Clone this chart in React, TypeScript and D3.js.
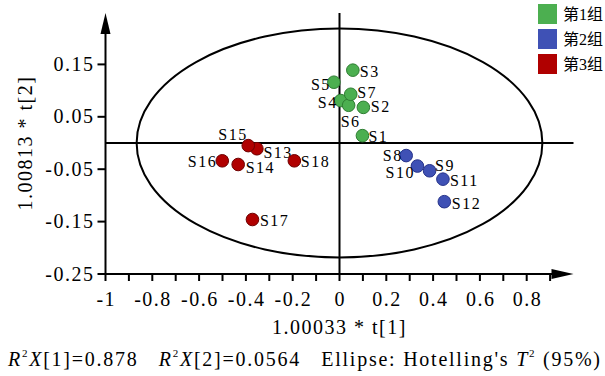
import React from "react";
import * as d3 from "d3";

const groupNames = ["第1组", "第2组", "第3组"];
const groupColors = ["#4caf50", "#3f51b5", "#b00000"];
const groupStrokes = ["#2e7d32", "#26338a", "#6e0000"];

const sampleNames = ["S1","S2","S3","S4","S5","S6","S7","S8","S9","S10","S11","S12","S13","S14","S15","S16","S17","S18"];
const sampleGroup = [0,0,0,0,0,0,0,1,1,1,1,1,2,2,2,2,2,2];
const t1Values = [0.098,0.102,0.057,0.005,-0.024,0.039,0.048,0.285,0.385,0.333,0.442,0.448,-0.353,-0.433,-0.390,-0.501,-0.372,-0.193];
const t2Values = [0.014,0.068,0.139,0.081,0.116,0.072,0.093,-0.024,-0.053,-0.044,-0.069,-0.112,-0.011,-0.041,-0.005,-0.034,-0.146,-0.034];

const xTickLabels = [-1,-0.8,-0.6,-0.4,-0.2,0,0.2,0.4,0.6,0.8];
const xMinorTicks = [-1,-0.9,-0.8,-0.7,-0.6,-0.5,-0.4,-0.3,-0.2,-0.1,0,0.1,0.2,0.3,0.4,0.5,0.6,0.7,0.8,0.9];
const yTickLabels = [0.15,0.05,-0.05,-0.15,-0.25];
const ellipseRadii = [0.867, 0.2185];

// label placement (style): [dx, dy, anchor]
const labelLayout: Record<string, [number, number, string]> = {
  S1: [6, 6, "start"], S2: [7.5, 5, "start"], S3: [7, 7, "start"], S4: [-4.5, 7.5, "end"],
  S5: [-4.5, 8, "end"], S6: [-8, 21.5, "start"], S7: [6.5, 4, "start"],
  S8: [-5, 5.5, "end"], S9: [5.5, 0.5, "start"], S10: [-4, 12, "end"], S11: [7, 7, "start"], S12: [7.5, 7, "start"],
  S13: [6.5, 9.5, "start"], S14: [7.5, 8.5, "start"], S15: [-2, -5.5, "end"], S16: [-6.5, 6.5, "end"],
  S17: [7.5, 6, "start"], S18: [6.5, 6.5, "start"],
};

const W = 605, H = 376;
const serif = "'Liberation Serif', 'Times New Roman', serif";

export default function App() {
  const x = d3.scaleLinear().domain([-1, 1]).range([105.5, 573.5]);
  const y = d3.scaleLinear().domain([-0.25, 0.25]).range([274, 12]);
  const x0 = x(-1), y0 = y(-0.25);
  const xEnd = x(1), yTop = y(0.25) + 1;
  const fmt = (v: number) => (v === 0 ? "0" : String(v));

  return (
    <svg width={W} height={H} style={{ position: "absolute", left: 0, top: 0, background: "#fff" }}>
      {/* ellipse */}
      <ellipse cx={x(0)} cy={y(0)} rx={x(ellipseRadii[0]) - x(0)} ry={y(0) - y(ellipseRadii[1])}
        fill="none" stroke="#000" strokeWidth={2} />
      {/* zero lines */}
      <line x1={x0} x2={xEnd} y1={y(0)} y2={y(0)} stroke="#000" strokeWidth={2} />
      <line x1={x(0)} x2={x(0)} y1={yTop} y2={y0} stroke="#000" strokeWidth={2} />
      {/* axes */}
      <line x1={x0} x2={xEnd - 16} y1={y0} y2={y0} stroke="#000" strokeWidth={2} />
      <path d={`M${xEnd},${y0} L${xEnd - 22},${y0 - 5} L${xEnd - 22},${y0 + 5} Z`} fill="#000" />
      <line x1={x0} x2={x0} y1={y0} y2={yTop + 16} stroke="#000" strokeWidth={2} />
      <path d={`M${x0},${yTop} L${x0 - 5},${yTop + 21} L${x0 + 5},${yTop + 21} Z`} fill="#000" />
      {/* x ticks */}
      {xMinorTicks.map((v) => (
        <line key={"xt" + v} x1={x(v)} x2={x(v)} y1={y0} y2={y0 + 7} stroke="#000" strokeWidth={2} />
      ))}
      {xTickLabels.map((v) => (
        <text key={"xl" + v} x={x(v) + 0.75} y={306} textAnchor="middle" fontFamily={serif}
          fontSize={20} letterSpacing={1.5} fill="#000">{fmt(v)}</text>
      ))}
      {/* y ticks */}
      {yTickLabels.map((v) => (
        <g key={"yt" + v}>
          <line x1={x0 - 8} x2={x0} y1={y(v)} y2={y(v)} stroke="#000" strokeWidth={2} />
          <text x={x0 - 11} y={y(v) + 6.5} textAnchor="end" fontFamily={serif}
            fontSize={20} letterSpacing={1.5} fill="#000">{String(v)}</text>
        </g>
      ))}
      {/* axis titles */}
      <text x={x(0)} y={334} textAnchor="middle" fontFamily={serif} fontSize={20} letterSpacing={1.5} fill="#000">
        1.00033 * t[1]
      </text>
      <text transform={`translate(32, ${y(0)}) rotate(-90)`} textAnchor="middle" fontFamily={serif}
        fontSize={20} letterSpacing={1.5} fill="#000">
        1.00813 * t[2]
      </text>
      {/* points */}
      {sampleNames.map((name, i) => {
        const g = sampleGroup[i];
        const cx = x(t1Values[i]), cy = y(t2Values[i]);
        const [dx, dy, anchor] = labelLayout[name];
        return (
          <g key={name}>
            <circle cx={cx} cy={cy} r={6.3} fill={groupColors[g]} stroke={groupStrokes[g]} strokeWidth={1} />
            <text x={cx + dx + (anchor === "end" ? 1.5 : 0)} y={cy + dy} textAnchor={anchor as any}
              fontFamily={serif} fontSize={16} letterSpacing={1.5} fill="#000">{name}</text>
          </g>
        );
      })}
      {/* legend */}
      {groupNames.map((gname, i) => (
        <g key={gname}>
          <rect x={538} y={4 + i * 25} width={19} height={20} fill={groupColors[i]} />
          <text x={563} y={14 + i * 25} dominantBaseline="central"
            fontFamily="'Liberation Serif', 'Noto Sans CJK SC', serif" fontSize={16} fill="#000">{gname}</text>
        </g>
      ))}
      {/* footer */}
      <text x={8} y={366} fontFamily={serif} fontSize={20} fill="#000" textLength={592} lengthAdjust="spacing"
        style={{ whiteSpace: "pre" }}>
        <tspan fontStyle="italic">R</tspan>
        <tspan fontSize={11} dy={-9}>2</tspan>
        <tspan fontStyle="italic" dy={9}>X</tspan>
        <tspan>[1]=0.878   </tspan>
        <tspan fontStyle="italic">R</tspan>
        <tspan fontSize={11} dy={-9}>2</tspan>
        <tspan fontStyle="italic" dy={9}>X</tspan>
        <tspan>[2]=0.0564   Ellipse: Hotelling's </tspan>
        <tspan fontStyle="italic">T</tspan>
        <tspan fontSize={11} dy={-9}>2</tspan>
        <tspan dy={9}> (95%)</tspan>
      </text>
    </svg>
  );
}
